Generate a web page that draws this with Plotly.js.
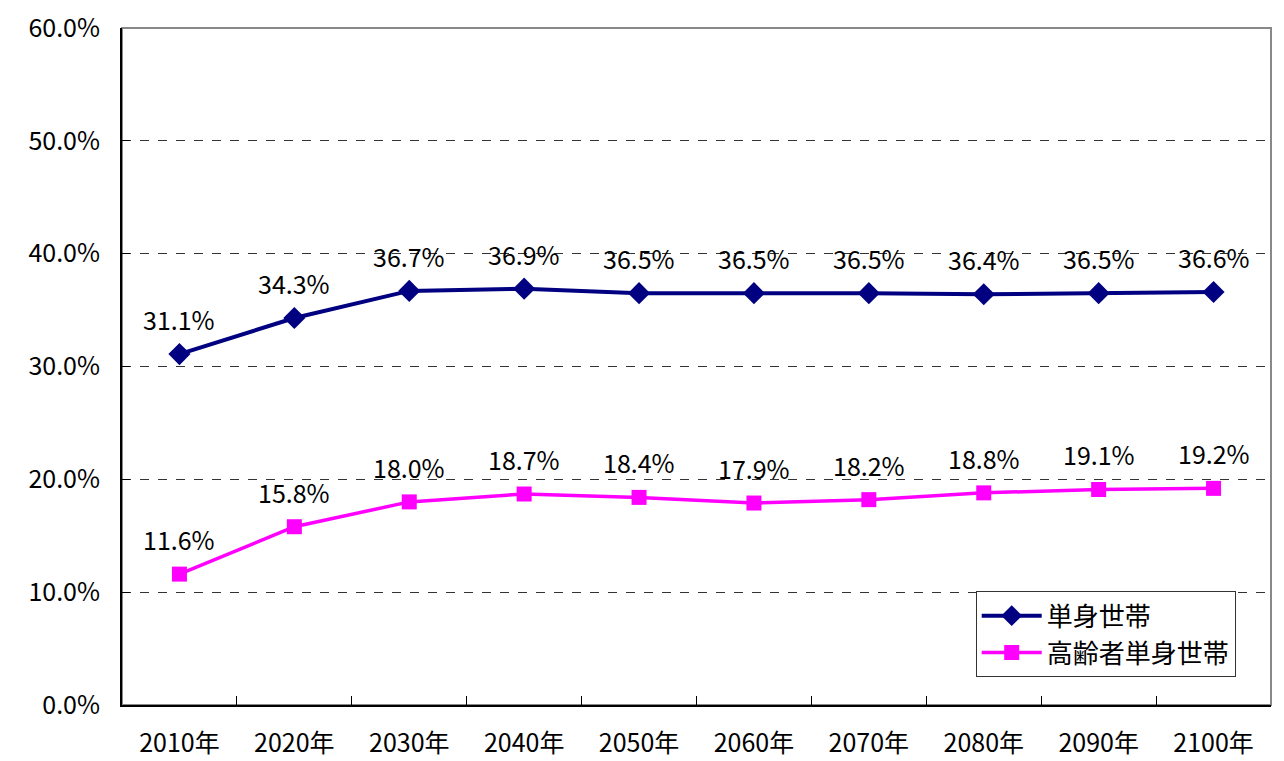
<!DOCTYPE html>
<html><head><meta charset="utf-8">
<script src="https://cdn.plot.ly/plotly-3.0.1.min.js"></script>
<style>html,body{margin:0;padding:0;background:#fff}#chart{width:1284px;height:761px}</style>
</head><body><div id="chart"></div>
<script>
const categories = ["2010年","2020年","2030年","2040年","2050年","2060年","2070年","2080年","2090年","2100年"];
const singleHouseholds = [31.1,34.3,36.7,36.9,36.5,36.5,36.5,36.4,36.5,36.6];
const elderlySingle = [11.6,15.8,18.0,18.7,18.4,17.9,18.2,18.8,19.1,19.2];
const seriesNames = ["単身世帯","高齢者単身世帯"];

const FONT = '"Noto Sans CJK JP", "Noto Sans", sans-serif';

const traces = [
  {x: categories, y: singleHouseholds, name: seriesNames[0], type: 'scatter', mode: 'lines+markers',
   line: {color: '#000080', width: 4}, marker: {symbol: 'diamond', size: 17, color: '#000080'}},
  {x: categories, y: elderlySingle, name: seriesNames[1], type: 'scatter', mode: 'lines+markers',
   line: {color: '#FF00FF', width: 3.5}, marker: {symbol: 'square', size: 15, color: '#FF00FF'}}
];

const annotations = [];
[singleHouseholds, elderlySingle].forEach(arr => {
  arr.forEach((v, i) => {
    annotations.push({x: categories[i], y: v, xref: 'x', yref: 'y', text: v.toFixed(1) + '%',
      showarrow: false, yshift: 35, font: {family: FONT, size: 25, color: '#000'}});
  });
});

const layout = {
  width: 1284, height: 761,
  margin: {l: 122, r: 13, t: 28, b: 56},
  paper_bgcolor: '#fff', plot_bgcolor: '#fff',
  font: {family: FONT, size: 25, color: '#000'},
  showlegend: true,
  legend: {x: 0.743, y: 0.168, xanchor: 'left', yanchor: 'top', bgcolor: '#fff',
    bordercolor: '#333', borderwidth: 1, font: {family: FONT, size: 26, color: '#000'},
    tracegroupgap: 0, itemwidth: 60, entrywidth: 272, borderwidth: 1},
  xaxis: {type: 'category', range: [-0.5, 9.5], showgrid: false, zeroline: false,
    showline: true, linecolor: '#000', linewidth: 2,
    ticks: 'inside', tickson: 'boundaries', ticklen: 9, tickcolor: '#000', tickwidth: 1,
    tickfont: {family: FONT, size: 25}, ticklabelstandoff: 15},
  yaxis: {range: [0, 60], dtick: 10, tickformat: '.1f', ticksuffix: '%',
    showgrid: true, gridcolor: '#000', griddash: 'dash', gridwidth: 0.8,
    zeroline: false, showline: true, linecolor: '#000', linewidth: 2,
    ticks: 'inside', ticklen: 8, tickcolor: '#000',
    tickfont: {family: FONT, size: 25}, ticklabelstandoff: 15},
  shapes: [{type: 'rect', xref: 'paper', yref: 'paper', x0: 0, x1: 1, y0: 0, y1: 1,
    line: {color: '#888', width: 2}, layer: 'below'}],
  annotations: annotations
};

Plotly.newPlot('chart', traces, layout, {displayModeBar: false, staticPlot: true});
</script></body></html>
